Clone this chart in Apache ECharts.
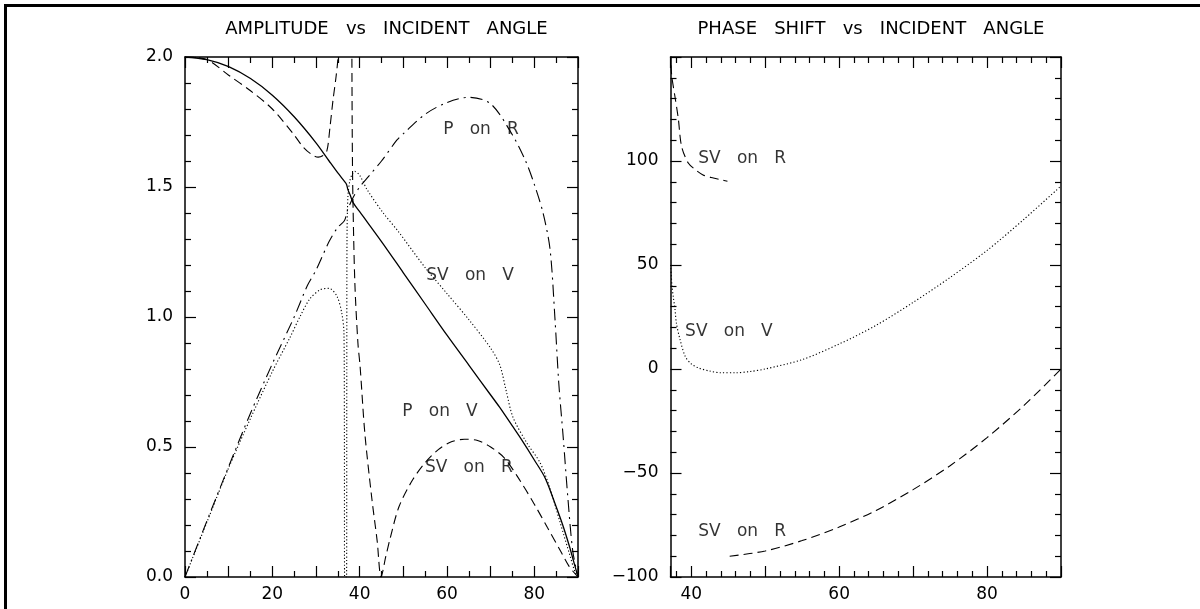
<!DOCTYPE html>
<html>
<head>
<meta charset="utf-8">
<script src="https://cdn.jsdelivr.net/npm/echarts@6/dist/echarts.min.js"></script>
<style>
  html, body { margin: 0; padding: 0; background: #fff; }
  #chart { width: 1200px; height: 609px; }
</style>
</head>
<body>
<div id="chart"></div>
<script>
// ---- Amplitude vs incident angle (degrees) ----
// P on V (solid)
const pvAngle = [0, 5, 10, 15, 20, 25, 30, 33, 35, 36.6, 37.0, 37.3, 37.8, 38.5, 40, 45, 50, 55, 60, 65, 70, 72, 75, 77, 80, 82.5, 85, 86.5, 88, 89, 90];
const pvAmp   = [2.0, 1.99, 1.963, 1.917, 1.853, 1.77, 1.67, 1.60, 1.554, 1.52, 1.51, 1.49, 1.47, 1.44, 1.405, 1.29, 1.17, 1.05, 0.93, 0.815, 0.70, 0.654, 0.58, 0.53, 0.45, 0.38, 0.27, 0.20, 0.12, 0.06, 0.0];

// P on R (dash-dot)
const prAngle = [0, 5, 10, 15, 20, 25, 28, 30, 33, 35, 36.5, 37.2, 38.5, 40, 42, 45, 48.5, 50, 55, 60, 65, 70, 75, 78, 80, 82, 83.6, 84.7, 85.6, 86.6, 87.7, 88.8, 90];
const prAmp   = [0, 0.215, 0.425, 0.63, 0.82, 1.0, 1.12, 1.18, 1.29, 1.345, 1.37, 1.41, 1.46, 1.50, 1.54, 1.60, 1.68, 1.705, 1.78, 1.825, 1.845, 1.82, 1.70, 1.60, 1.51, 1.40, 1.26, 1.0, 0.745, 0.54, 0.30, 0.10, 0];

// SV on R (dashed); null marks the break where the amplitude runs off the top
const srAngle = [0, 5, 10, 15, 20, 25, 27, 29, 30.5, 31.5, 32.5, 33.2, 33.9, 34.6, 35.0, 35.3, 36.7, 38.2, 38.3, 38.45, 38.9, 39.6, 40.1, 41.2, 42.8, 44.0, 44.9, 46, 47, 49, 52, 55, 58, 61, 64, 67, 70, 73, 76, 80, 83, 86, 88, 90];
const srAmp   = [2.0, 1.99, 1.93, 1.87, 1.80, 1.70, 1.655, 1.625, 1.615, 1.62, 1.64, 1.73, 1.835, 1.925, 1.99, 2.1, null, 2.1, 1.70, 1.46, 1.13, 0.90, 0.81, 0.55, 0.30, 0.14, 0.0, 0.08, 0.15, 0.27, 0.37, 0.44, 0.49, 0.52, 0.53, 0.525, 0.50, 0.46, 0.39, 0.28, 0.19, 0.10, 0.04, 0];

// SV on V (dotted)
const svAngle = [0, 5, 10, 15, 20, 24, 26.3, 28.6, 31, 33, 34.8, 35.9, 36.4, 36.5, 36.55, 37.0, 37.05, 37.1, 37.3, 37.7, 38.3, 38.9, 40, 41.7, 45.4, 48.8, 55, 60, 65, 70, 72.1, 73.5, 75.1, 78.3, 81.3, 83.6, 85.9, 88.2, 89.3, 90];
const svAmp   = [0, 0.21, 0.42, 0.61, 0.79, 0.92, 1.0, 1.07, 1.105, 1.11, 1.08, 1.015, 0.94, 0.6, 0.0, 0.0, 0.8, 1.3, 1.46, 1.52, 1.55, 1.56, 1.545, 1.49, 1.40, 1.33, 1.19, 1.09, 0.99, 0.88, 0.815, 0.72, 0.615, 0.515, 0.44, 0.34, 0.21, 0.08, 0.02, 0];

// ---- Phase shift vs incident angle (degrees) ----
const phSrAngleA = [37.25, 37.4, 37.8, 38.25, 38.7, 39.6, 40.5, 41.6, 43.0, 44.1, 44.9];
const phSrA      = [146, 140, 131, 120.5, 107, 99, 96, 93.3, 91.8, 90.9, 90.3];
const phSrAngleB = [45.2, 50, 55, 60, 65, 70, 75, 80, 85, 90];
const phSrB      = [-90, -87.5, -82.5, -76, -68, -58, -46.5, -33, -17.5, 0];
const phSvAngle  = [37.22, 37.4, 37.6, 37.8, 38, 38.5, 39.2, 40, 41, 42.5, 44, 46, 48, 50, 55, 60, 65, 70, 75, 80, 85, 90];
const phSv       = [50, 40, 34, 29, 22, 14, 6, 2.5, 0.5, -1, -1.8, -1.8, -1.2, 0, 4.5, 12, 21, 32, 44, 57, 72, 88];

// curve labels: text, angle, value
const ampNoteText  = ['P   on   R', 'SV   on   V', 'P   on   V', 'SV   on   R'];
const ampNoteAngle = [67.8, 65.3, 58.4, 65.0];
const ampNoteValue = [1.72, 1.16, 0.635, 0.42];
const phNoteText   = ['SV   on   R', 'SV   on   V', 'SV   on   R'];
const phNoteAngle  = [46.9, 45.1, 46.9];
const phNoteValue  = [101.4, 17.8, -78.4];

const pairs = (xs, ys) => xs.map((x, i) => [x, ys[i]]);
const FONT = 'DejaVu Sans';
const INK = '#000';

function lineSeries(name, xIdx, yIdx, xs, ys, dash, width) {
  return {
    name, type: 'line', xAxisIndex: xIdx, yAxisIndex: yIdx,
    data: pairs(xs, ys), showSymbol: false, symbol: 'none',
    connectNulls: false, clip: true, silent: true,
    smooth: 0.3,
    lineStyle: { color: INK, width: width || 1, type: dash }
  };
}
function noteSeries(xIdx, yIdx, texts, xs, ys) {
  return {
    type: 'scatter', xAxisIndex: xIdx, yAxisIndex: yIdx, silent: true,
    symbolSize: 1, itemStyle: { color: 'rgba(0,0,0,0)' },
    data: texts.map((t, i) => ({ name: t, value: [xs[i], ys[i]] })),
    label: { show: true, position: 'inside', formatter: p => p.name,
             color: INK, fontFamily: FONT, fontSize: 17 }
  };
}

const axisLine = { show: true, onZero: false, lineStyle: { color: INK, width: 1.5 } };
const tick = { show: true, inside: true, length: 11, lineStyle: { color: INK, width: 1.2 } };
function minor(n) { return { show: true, splitNumber: n, length: 6, lineStyle: { color: INK, width: 1.2 } }; }
const noSplit = { show: false };
const lbl = { color: INK, fontFamily: FONT, fontSize: 17 };

function xPair(grid, min, max, interval) {
  const base = { type: 'value', gridIndex: grid, min, max, axisLine, axisTick: tick,
                 minorTick: minor(grid === 0 ? 2 : 5), splitLine: noSplit, minorSplitLine: noSplit };
  if (interval) base.interval = interval;
  return [
    Object.assign({}, base, { position: 'bottom',
      axisLabel: Object.assign({}, lbl, { margin: 9, formatter: v => (Math.abs(v % 20) < 1e-9 ? String(v) : '') }) }),
    Object.assign({}, base, { position: 'top', axisLabel: { show: false } })
  ];
}
function yPair(grid, min, max, interval, fmt) {
  const base = { type: 'value', gridIndex: grid, min, max, interval, axisLine, axisTick: tick,
                 minorTick: minor(5), splitLine: noSplit, minorSplitLine: noSplit };
  return [
    Object.assign({}, base, { position: 'left', axisLabel: Object.assign({}, lbl, { margin: 12, formatter: fmt }) }),
    Object.assign({}, base, { position: 'right', axisLabel: { show: false } })
  ];
}

const chart = echarts.init(document.getElementById('chart'), null, { renderer: 'canvas' });
chart.setOption({
  animation: false,
  backgroundColor: '#fff',
  title: [
    { text: 'AMPLITUDE   vs   INCIDENT   ANGLE', left: 381.5, top: 15, textAlign: 'center',
      textStyle: { color: INK, fontFamily: FONT, fontSize: 18, fontWeight: 'normal' } },
    { text: 'PHASE   SHIFT   vs   INCIDENT   ANGLE', left: 866, top: 15, textAlign: 'center',
      textStyle: { color: INK, fontFamily: FONT, fontSize: 18, fontWeight: 'normal' } }
  ],
  grid: [
    { left: 185, top: 57, width: 393, height: 520 },
    { left: 670.5, top: 57, width: 390.5, height: 520 }
  ],
  xAxis: [].concat(xPair(0, 0, 90, 10), xPair(1, 37.2, 90, null)),
  yAxis: [].concat(
    yPair(0, 0, 2, 0.5, v => v.toFixed(1)),
    yPair(1, -100, 150, 50, v => (v === 150 ? '' : String(v).replace('-', '\u2212')))
  ),
  graphic: [
    { type: 'rect', silent: true, shape: { x: 5.5, y: 5.5, width: 1400, height: 900 },
      style: { fill: 'none', stroke: INK, lineWidth: 3 } }
  ],
  series: [
    lineSeries('P on V', 0, 0, pvAngle, pvAmp, 'solid', 1.3),
    lineSeries('P on R', 0, 0, prAngle, prAmp, [12, 5, 2, 5], 1.1),
    lineSeries('SV on R', 0, 0, srAngle, srAmp, [9, 5], 1.1),
    lineSeries('SV on V', 0, 0, svAngle, svAmp, [1.2, 2.2], 1.1),
    noteSeries(0, 0, ampNoteText, ampNoteAngle, ampNoteValue),
    lineSeries('SV on R phase a', 2, 2, phSrAngleA, phSrA, [9, 5], 1.1),
    lineSeries('SV on R phase b', 2, 2, phSrAngleB, phSrB, [9, 5], 1.1),
    lineSeries('SV on V phase', 2, 2, phSvAngle, phSv, [1.2, 2.2], 1.1),
    noteSeries(2, 2, phNoteText, phNoteAngle, phNoteValue)
  ]
});
</script>
</body>
</html>
